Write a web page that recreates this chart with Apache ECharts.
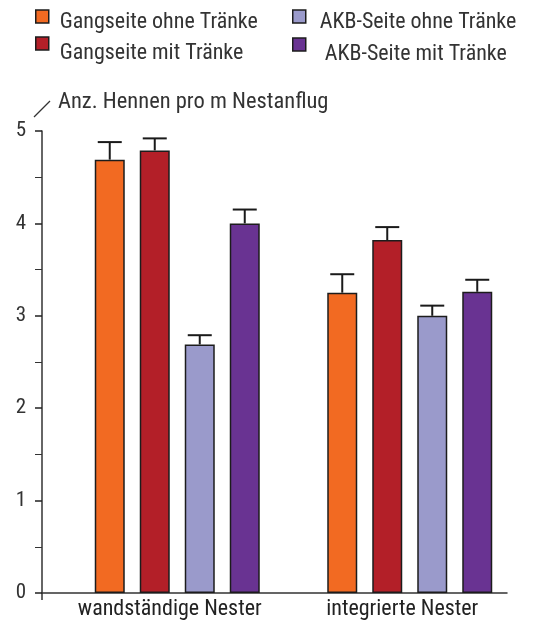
<!DOCTYPE html>
<html>
<head>
<meta charset="utf-8">
<script src="https://cdn.jsdelivr.net/npm/echarts@6/dist/echarts.min.js"></script>
<style>
html,body{margin:0;padding:0;background:#fff;}
#c{width:537px;height:626px;}
</style>
</head>
<body>
<div id="c"></div>
<script>
const categories = ['wandständige Nester', 'integrierte Nester'];
const seriesNames = ['Gangseite ohne Tränke', 'Gangseite mit Tränke', 'AKB-Seite ohne Tränke', 'AKB-Seite mit Tränke'];
const colors = ['#F26A22', '#B31F28', '#9A9ACB', '#693392'];
const gangOhne = [4.69, 3.25];
const gangMit = [4.79, 3.82];
const akbOhne = [2.69, 3.00];
const akbMit = [4.00, 3.26];
const gangOhneErr = [4.88, 3.45];
const gangMitErr = [4.92, 3.96];
const akbOhneErr = [2.79, 3.11];
const akbMitErr = [4.15, 3.39];
const yTicks = [0, 1, 2, 3, 4, 5];

const means = [gangOhne, gangMit, akbOhne, akbMit];
const errs = [gangOhneErr, gangMitErr, akbOhneErr, akbMitErr];

const FONT = '"Roboto Condensed", "Liberation Sans", sans-serif';
const chart = echarts.init(document.getElementById('c'), null, {renderer: 'canvas'});

const BAR_W = 30, STEP = 45;

const barSeries = seriesNames.map((n, k) => ({
  name: n,
  type: 'bar',
  xAxisIndex: 1,
  yAxisIndex: 1,
  barWidth: BAR_W,
  barGap: '50%',
  data: means[k],
  itemStyle: {color: colors[k], borderColor: '#1c1c1c', borderWidth: 1.5},
  emphasis: {disabled: true},
  z: 2
}));

const errData = [];
for (let k = 0; k < 4; k++) {
  for (let i = 0; i < categories.length; i++) {
    errData.push([i, means[k][i], errs[k][i], k]);
  }
}

const errSeries = {
  type: 'custom',
  xAxisIndex: 1,
  yAxisIndex: 1,
  silent: true,
  z: 3,
  data: errData,
  renderItem: function (params, api) {
    const c = api.value(0), m = api.value(1), h = api.value(2), k = api.value(3);
    const p0 = api.coord([c, m]);
    const p1 = api.coord([c, h]);
    const x = p0[0] + (k - 1.5) * STEP;
    const style = {stroke: '#1a1a1a', lineWidth: 2};
    return {
      type: 'group',
      children: [
        {type: 'line', shape: {x1: x, y1: p0[1], x2: x, y2: p1[1]}, style: style},
        {type: 'line', shape: {x1: x - 12, y1: p1[1], x2: x + 12, y2: p1[1]}, style: style}
      ]
    };
  }
};

function legendAt(name, left, top, gapH, padLeft) {
  return {
    data: [name],
    left: left,
    top: top,
    padding: 0,
    orient: 'horizontal',
    itemWidth: 13,
    itemHeight: 13,
    icon: 'rect',
    selectedMode: false,
    itemStyle: {borderColor: '#1c1c1c', borderWidth: 1.5},
    formatter: function (n) { return '{g| }\n{t|' + n + '}'; },
    textStyle: {
      padding: [0, 0, 0, padLeft],
      rich: {
        g: {fontSize: 1, lineHeight: gapH},
        t: {fontFamily: FONT, fontSize: 22, lineHeight: 26, color: '#333'}
      }
    }
  };
}

const option = {
  animation: false,
  backgroundColor: '#fff',
  textStyle: {fontFamily: FONT},
  legend: [
    legendAt(seriesNames[0], 35, 3, 11, 6),
    legendAt(seriesNames[1], 35, 30, 19, 6),
    legendAt(seriesNames[2], 292, 3, 11, 9),
    legendAt(seriesNames[3], 292, 31, 19, 14)
  ],
  grid: [
    {left: 42, width: 465, top: 131, bottom: 33, containLabel: false},
    {left: 61, width: 465, top: 131, bottom: 33, containLabel: false}
  ],
  xAxis: [
    {
      type: 'category', gridIndex: 0, data: categories,
      axisLine: {show: true, lineStyle: {color: '#333', width: 1.5}},
      axisTick: {show: false}, axisLabel: {show: false}
    },
    {
      type: 'category', gridIndex: 1, data: categories,
      axisLine: {show: false}, axisTick: {show: false},
      axisLabel: {show: true, interval: 0, fontFamily: FONT, fontSize: 22, color: '#222', margin: 5, padding: [0, 15, 0, 0]}
    }
  ],
  yAxis: [
    {
      type: 'value', gridIndex: 0, min: yTicks[0], max: yTicks[yTicks.length - 1], interval: 1,
      axisLine: {show: true, lineStyle: {color: '#333', width: 1.5}},
      axisTick: {show: true, length: 7, lineStyle: {color: '#222', width: 1.5}},
      minorTick: {show: true, splitNumber: 2, length: 7, lineStyle: {color: '#333', width: 1}},
      splitLine: {show: false},
      axisLabel: {fontFamily: FONT, fontSize: 21, color: '#333', margin: 16}
    },
    {
      type: 'value', gridIndex: 1, min: yTicks[0], max: yTicks[yTicks.length - 1], interval: 1,
      show: false
    }
  ],
  graphic: [
    {type: 'line', shape: {x1: 34, y1: 117, x2: 50, y2: 101}, style: {stroke: '#333', lineWidth: 1.2}},
    {type: 'line', shape: {x1: 42, y1: 593, x2: 42, y2: 600}, style: {stroke: '#333', lineWidth: 1.5}},
    {type: 'text', left: 58, top: 91, style: {text: 'Anz. Hennen pro m Nestanflug', font: '22.5px ' + FONT, fill: '#333'}}
  ],
  series: barSeries.concat([errSeries])
};
chart.setOption(option);
</script>
</body>
</html>
